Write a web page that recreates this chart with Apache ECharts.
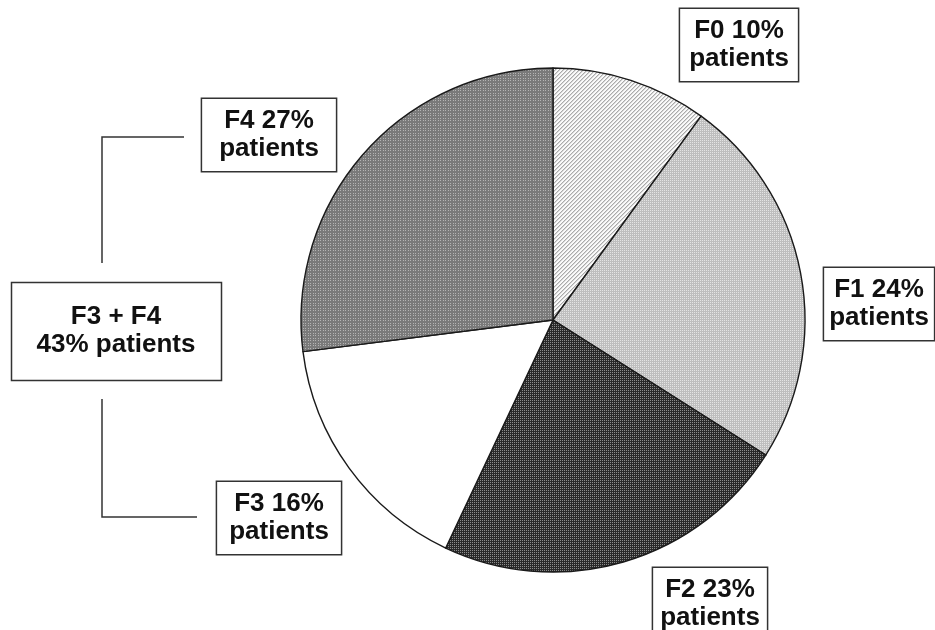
<!DOCTYPE html>
<html>
<head>
<meta charset="utf-8">
<script src="https://cdn.jsdelivr.net/npm/echarts@6/dist/echarts.min.js"></script>
<style>
  html, body { margin: 0; padding: 0; background: #fff; }
  #chart { width: 935px; height: 630px; }
</style>
</head>
<body>
<div id="chart"></div>
<script>
// Fibrosis stage distribution (% of patients)
const stages = ['F0', 'F1', 'F2', 'F3', 'F4'];
const percents = [10, 24, 23, 16, 27];
const unitText = 'patients';

// Small pixel tiles used as slice fills
function makeTile(size, paint) {
  const c = document.createElement('canvas');
  c.width = size; c.height = size;
  const ctx = c.getContext('2d');
  const img = ctx.createImageData(size, size);
  for (let y = 0; y < size; y++) {
    for (let x = 0; x < size; x++) {
      const v = paint(x, y);
      const i = (y * size + x) * 4;
      img.data[i] = img.data[i + 1] = img.data[i + 2] = v;
      img.data[i + 3] = 255;
    }
  }
  ctx.putImageData(img, 0, 0);
  return { image: c, repeat: 'repeat' };
}

const fills = [
  // light diagonal hatch
  makeTile(4, (x, y) => ((x + y) % 4 === 0 ? 170 : ((x + y) % 4 === 1 ? 215 : 250))),
  // light grey with pale dots
  makeTile(4, (x, y) => ((x % 2 === 0 && y % 2 === 0) ? 228 : 190)),
  // dark checker
  makeTile(4, (x, y) => ((x + y) % 2 === 0 ? (x % 2 === 0 ? 140 : 40) : 42)),
  // plain white
  '#ffffff',
  // mid grey with light dots
  makeTile(5, (x, y) => ((x % 3 === 0 && y % 3 === 0) ? 180 : 122))
];

// Label box centres and horizontal padding per stage
const labelSpots = [
  { x: 739, y: 45, pad: 9 },
  { x: 879, y: 304, pad: 5 },
  { x: 710, y: 604, pad: 7 },
  { x: 279, y: 518, pad: 12 },
  { x: 269, y: 135, pad: 17 }
];

const combined = percents[3] + percents[4];
const FONT = 'bold 26px "Liberation Sans", Arial, sans-serif';

const labelGraphics = stages.map((s, i) => ({
  type: 'text',
  x: labelSpots[i].x,
  y: labelSpots[i].y,
  z: 10,
  style: {
    text: s + ' ' + percents[i] + '%\n' + unitText,
    font: FONT,
    lineHeight: 28,
    fill: '#111',
    align: 'center',
    verticalAlign: 'middle',
    backgroundColor: '#ffffff',
    borderColor: '#333',
    borderWidth: 1.5,
    padding: [8, labelSpots[i].pad, 8, labelSpots[i].pad]
  }
}));

const chart = echarts.init(document.getElementById('chart'), null, { renderer: 'canvas' });

chart.setOption({
  animation: false,
  backgroundColor: '#ffffff',
  series: [{
    type: 'pie',
    center: [553, 320],
    radius: [0, 252],
    startAngle: 90,
    clockwise: true,
    silent: true,
    itemStyle: { borderColor: '#1a1a1a', borderWidth: 1.4 },
    label: { show: false },
    labelLine: { show: false },
    data: stages.map((s, i) => ({
      name: s,
      value: percents[i],
      itemStyle: { color: fills[i] }
    }))
  }],
  graphic: labelGraphics.concat([
    {
      type: 'polyline',
      shape: { points: [[184, 137], [102, 137], [102, 263]] },
      style: { stroke: '#333', lineWidth: 1.5, fill: null }
    },
    {
      type: 'polyline',
      shape: { points: [[102, 399], [102, 517], [197, 517]] },
      style: { stroke: '#333', lineWidth: 1.5, fill: null }
    },
    {
      type: 'rect',
      shape: { x: 11.5, y: 282.5, width: 210, height: 98 },
      style: { fill: '#fff', stroke: '#333', lineWidth: 1.5 }
    },
    {
      type: 'text',
      x: 116, y: 331,
      style: {
        text: stages[3] + ' + ' + stages[4] + '\n' + combined + '% ' + unitText,
        font: FONT,
        lineHeight: 28,
        fill: '#111',
        align: 'center',
        verticalAlign: 'middle'
      }
    }
  ])
});
</script>
</body>
</html>
